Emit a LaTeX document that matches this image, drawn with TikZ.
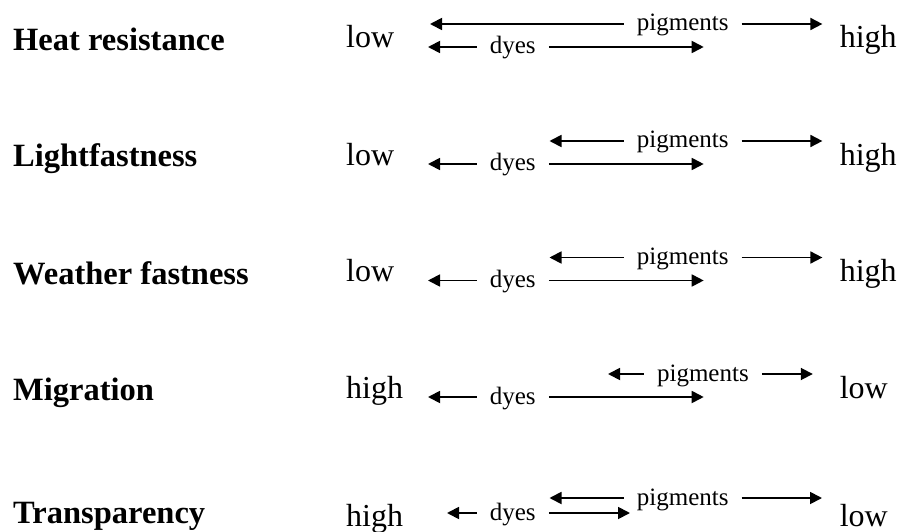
\documentclass[tikz,border=0pt]{standalone}
\usepackage{fontspec}
\setmainfont{Liberation Serif}
\usetikzlibrary{arrows.meta}
\tikzset{
    prop/.style={anchor=base west, inner sep=0pt, font=\fontsize{32.5}{39}\selectfont\bfseries},
    level/.style={anchor=base west, inner sep=0pt, font=\fontsize{32}{38}\selectfont},
    kind/.style={anchor=base, inner xsep=13pt, inner ysep=0pt, font=\fontsize{25}{30}\selectfont},
    tip/.style={-{Triangle[length=12pt,width=12pt]}, line width=1.8pt}
}
\begin{document}
\begin{tikzpicture}[x=1pt, y=-1pt]
    \def \lx {346}
    \def \rx {839.6}
    \useasboundingbox (0,0) rectangle (900,532);
    % heat resistance
    \node[prop] (t1) at (13,51) {Heat resistance};
    \node[level] (lo1) at (\lx,48) {low};
    \node[level] (hi1) at (\rx,48) {high};
    \coordinate (pl1) at (430,24);
    \coordinate (pr1) at (822.4,24);
    \coordinate (dl1) at (428,47);
    \coordinate (dr1) at (703.7,47);
    \node[kind] (pg1) at (682.7,31) {pigments};
    \node[kind] (dy1) at (512.7,54) {dyes};
    \draw[tip] (pg1.west |- pl1) -- (pl1);
    \draw[tip] (pg1.east |- pr1) -- (pr1);
    \draw[tip] (dy1.west |- dl1) -- (dl1);
    \draw[tip] (dy1.east |- dr1) -- (dr1);
    % lightfastness
    \node[prop] (t2) at (13,167) {Lightfastness};
    \node[level] (lo2) at (\lx,165) {low};
    \node[level] (hi2) at (\rx,165) {high};
    \coordinate (pl2) at (549.5,141);
    \coordinate (pr2) at (822.4,141);
    \coordinate (dl2) at (428,164);
    \coordinate (dr2) at (703.7,164);
    \node[kind] (pg2) at (682.7,148) {pigments};
    \node[kind] (dy2) at (512.7,171) {dyes};
    \draw[tip] (pg2.west |- pl2) -- (pl2);
    \draw[tip] (pg2.east |- pr2) -- (pr2);
    \draw[tip] (dy2.west |- dl2) -- (dl2);
    \draw[tip] (dy2.east |- dr2) -- (dr2);
    % weather fastness
    \node[prop] (t3) at (13,284) {Weather fastness};
    \node[level] (lo3) at (\lx,281.5) {low};
    \node[level] (hi3) at (\rx,281.5) {high};
    \coordinate (pl3) at (549.5,257.5);
    \coordinate (pr3) at (822.4,257.5);
    \coordinate (dl3) at (428,280.5);
    \coordinate (dr3) at (703.7,280.5);
    \node[kind] (pg3) at (682.7,264.5) {pigments};
    \node[kind] (dy3) at (512.7,287.5) {dyes};
    \draw[tip] (pg3.west |- pl3) -- (pl3);
    \draw[tip] (pg3.east |- pr3) -- (pr3);
    \draw[tip] (dy3.west |- dl3) -- (dl3);
    \draw[tip] (dy3.east |- dr3) -- (dr3);
    % migration
    \node[prop] (t4) at (13,400) {Migration};
    \node[level] (hi4) at (\lx,398) {high};
    \node[level] (lo4) at (\rx,398) {low};
    \coordinate (pl4) at (608,374);
    \coordinate (pr4) at (812.8,374);
    \coordinate (dl4) at (428,397);
    \coordinate (dr4) at (703.7,397);
    \node[kind] (pg4) at (702.9,381) {pigments};
    \node[kind] (dy4) at (512.7,404) {dyes};
    \draw[tip] (pg4.west |- pl4) -- (pl4);
    \draw[tip] (pg4.east |- pr4) -- (pr4);
    \draw[tip] (dy4.west |- dl4) -- (dl4);
    \draw[tip] (dy4.east |- dr4) -- (dr4);
    % transparency
    \node[prop] (t5) at (13,523) {Transparency};
    \node[level] (hi5) at (\lx,526) {high};
    \node[level] (lo5) at (\rx,526) {low};
    \coordinate (pl5) at (549.5,498);
    \coordinate (pr5) at (822,498);
    \coordinate (dl5) at (447,513);
    \coordinate (dr5) at (630,513);
    \node[kind] (pg5) at (682.7,505) {pigments};
    \node[kind] (dy5) at (512.7,520) {dyes};
    \draw[tip] (pg5.west |- pl5) -- (pl5);
    \draw[tip] (pg5.east |- pr5) -- (pr5);
    \draw[tip] (dy5.west |- dl5) -- (dl5);
    \draw[tip] (dy5.east |- dr5) -- (dr5);
\end{tikzpicture}
\end{document}
